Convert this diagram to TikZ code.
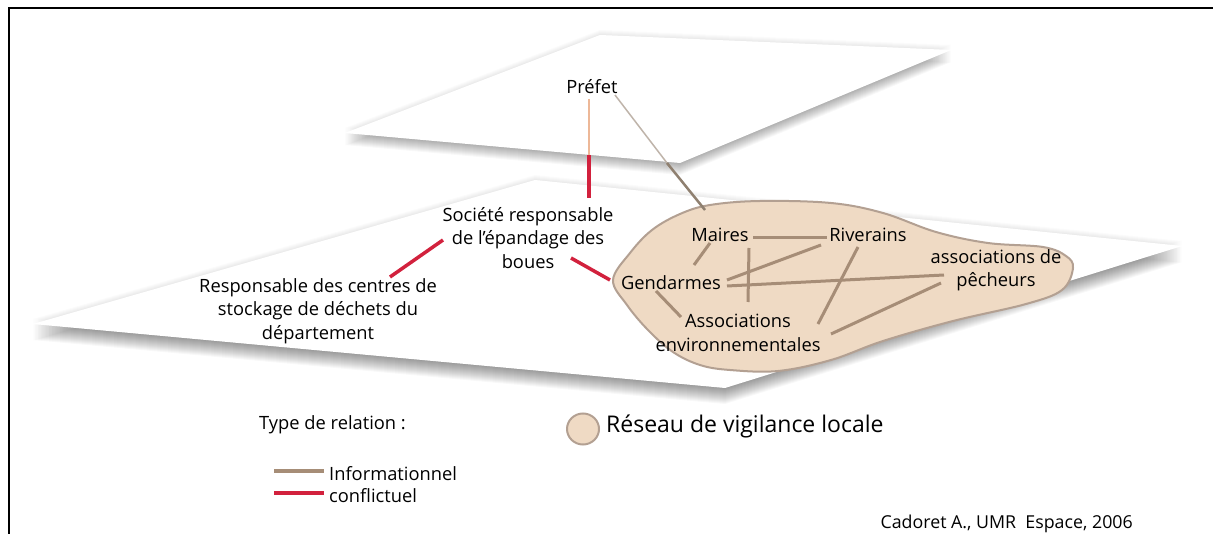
\documentclass[tikz,border=0pt]{standalone}
\usepackage{fontspec}
\setmainfont{Open Sans}
\usetikzlibrary{shapes.geometric}
\definecolor{blobfill}{HTML}{EFDAC4}
\definecolor{blobline}{HTML}{B3A092}
\definecolor{infoc}{HTML}{A68D77}
\definecolor{confc}{HTML}{D2213D}
\definecolor{peach}{HTML}{EDB898}
\definecolor{greyl}{HTML}{BFB4AA}
\definecolor{greyd}{HTML}{8F8070}
\tikzset{
  info/.style={draw=infoc,line width=3pt},
  conf/.style={draw=confc,line width=3.5pt},
  lbl/.style={inner sep=0pt,font=\fontsize{18.3}{23.5}\selectfont,align=center},
  leg/.style={inner sep=0pt,font=\fontsize{18.3}{22}\selectfont,align=left},
  shade/.style={fill=black,opacity=0.028},
}
\begin{document}
\begin{tikzpicture}[x=1pt,y=-1pt]
\useasboundingbox (0,0) rectangle (1213,534);
\fill[white] (0,0) rectangle (1213,534);
% planes
\def\lowerplane{(33,324) -- (535,180) -- (1182,246) -- (725,388) -- cycle}
\def\upperplane{(345,133) -- (600,35) -- (951,50) -- (680,163) -- cycle}
\foreach \i in {1,...,5} {\fill[black,opacity=0.014,yshift=\i pt] \lowerplane;}
\foreach \i in {1,...,16} {\fill[shade,yshift=-\i pt] \lowerplane;}
\fill[white] \lowerplane;
\foreach \i in {1,...,5} {\fill[black,opacity=0.014,yshift=\i pt] \upperplane;}
\foreach \i in {1,...,12} {\fill[shade,yshift=-\i pt] \upperplane;}
\fill[white] \upperplane;
% frame
\draw[line width=2pt] (9,534) -- (9,7.7) -- (1213,7.7);
% blob
\draw[blobline,line width=2pt,fill=blobfill] plot[smooth cycle,tension=0.6] coordinates {
 (613,280) (630,253) (652,230) (680,214) (710,205) (760,201) (831,203) (883,213)
 (936,232) (988,243) (1043,247) (1066,256) (1073,268) (1062,290) (1026,304)
 (953,321) (883,341) (831,360) (778,371) (730,370) (700,365) (673,352) (648,330) (627,305)};
% nodes
\node[lbl] (prefet) at (592,87) {Préfet};
\node[lbl] (soc) at (528,238) {Société responsable\\de l'épandage des\\boues};
\node[lbl] (resp) at (318,311) {Responsable des centres de\\stockage de déchets du\\département};
\node[lbl] (maires) at (720,235) {Maires};
\node[lbl] (riv) at (868,235) {Riverains};
\node[lbl] (pech) at (996,270) {associations de\\pêcheurs};
\node[lbl] (gend) at (671,283) {Gendarmes};
\node[lbl] (assoc) at (738,333) {Associations\\environnementales};
\coordinate (pe1) at (589,155);
\coordinate (pe2) at (667,163);
% connectors
\draw[draw=peach,line width=2pt] ([shift={(-3,12)}]prefet.center) -- (pe1);
\draw[conf] (pe1) -- ([shift={(61,-40)}]soc.center);
\draw[draw=greyl,line width=1.5pt] ([shift={(23,8)}]prefet.center) -- (pe2);
\draw[draw=greyd,line width=2.5pt] (pe2) -- ([shift={(-15,-25)}]maires.center);
\draw[conf] ([shift={(72,-34)}]resp.center) -- ([shift={(-85,2)}]soc.center);
\draw[conf] ([shift={(43,20)}]soc.center) -- ([shift={(-61,-3)}]gend.center);
\draw[info] ([shift={(33,3)}]maires.center) -- ([shift={(-41,3)}]riv.center);
\draw[info] ([shift={(-10,8)}]maires.center) -- ([shift={(23,-18)}]gend.center);
\draw[info] ([shift={(29,13)}]maires.center) -- ([shift={(10,-31)}]assoc.center);
\draw[info] ([shift={(56,-3)}]gend.center) -- ([shift={(-47,10)}]riv.center);
\draw[info] ([shift={(56,3)}]gend.center) -- ([shift={(-52,5)}]pech.center);
\draw[info] ([shift={(-10,12)}]riv.center) -- ([shift={(80,-9)}]assoc.center);
\draw[info] ([shift={(93,1)}]assoc.center) -- ([shift={(-55,13)}]pech.center);
\draw[info] ([shift={(-15,8)}]gend.center) -- ([shift={(-57,-16)}]assoc.center);
% legend
\node[leg,anchor=west] (typ) at (259,425) {Type de relation :};
\node[draw=blobline,line width=2pt,fill=blobfill,ellipse,minimum width=32pt,minimum height=31pt,inner sep=0pt] (oval) at (583,429) {};
\node[inner sep=0pt,anchor=west,font=\fontsize{23}{26}\selectfont] (res) at (606,426) {Réseau de vigilance locale};
\node[leg,anchor=west] (inf) at (329,474) {Informationnel};
\node[leg,anchor=west] (con) at (329,496) {conflictuel};
\coordinate (li1) at (274,471);
\coordinate (li2) at (274,493);
\draw[info,line width=3.5pt] (li1) -- ([xshift=-5pt]inf.west |- li1);
\draw[conf] (li2) -- ([xshift=-5pt]con.west |- li2);
\node[inner sep=0pt,anchor=east,font=\fontsize{17.8}{22}\selectfont] (cad) at (1133,524) {Cadoret A., UMR\ \ Espace, 2006};
\end{tikzpicture}
\end{document}
